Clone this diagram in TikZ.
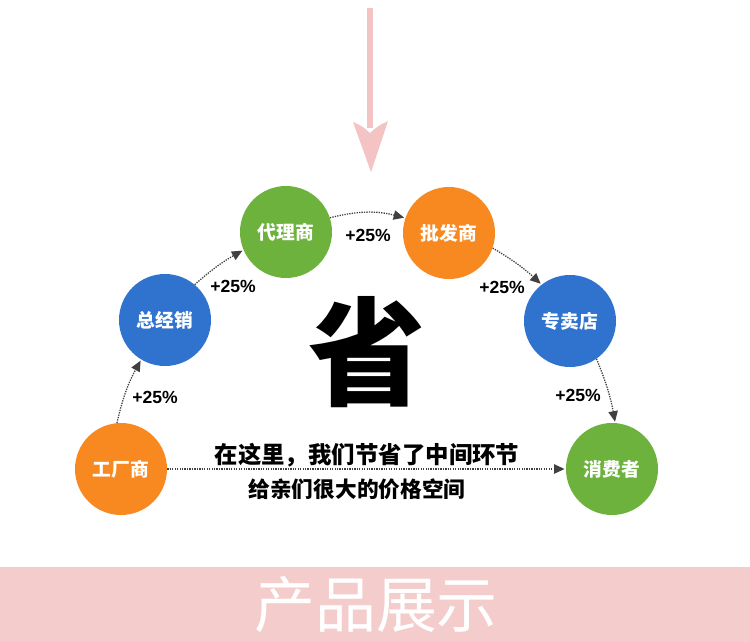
\documentclass[tikz,border=0pt]{standalone}
\usepackage{fontspec}
\usepackage{tikz}
\usetikzlibrary{arrows.meta}
\setmainfont{Liberation Sans}
\newfontfamily\cjk{Noto Sans CJK SC}
\definecolor{chengse}{RGB}{247,137,32}
\definecolor{lanse}{RGB}{47,115,206}
\definecolor{lvse}{RGB}{110,178,62}
\definecolor{fense}{RGB}{244,204,204}
\definecolor{jiantou}{RGB}{244,196,196}

\begin{document}
\begin{tikzpicture}[x=0.03cm,y=-0.03cm,
        quan/.style={circle,minimum size=2.76cm,inner sep=0pt,text=white,font=\cjk\bfseries\fontsize{16}{18}\selectfont},
        liu/.style={densely dotted,line width=1.1pt,draw=black!75,-{Triangle[length=9pt,width=8pt]},shorten >=1pt},
        jia/.style={font=\bfseries\fontsize{15}{17}\selectfont}]
        \useasboundingbox (0,0) rectangle (750,642);
        \fill[white] (0,0) rectangle (750,642);
        % pink arrow on top
        \fill[jiantou] (367,8) rectangle (373,128);
        \fill[jiantou] (353,122) .. controls (362,126) .. (370,133) .. controls (378,126) .. (388,121) -- (371,172) -- cycle;
        % circles
        \foreach \nm/\x/\y/\col/\txt in {gc/121/469/chengse/工厂商, zjx/165/320/lanse/总经销, dl/286/232/lvse/代理商,
            pf/449/233/chengse/批发商, zm/570/321/lanse/专卖店, xf/612/469/lvse/消费者}{
            \node[quan,fill=\col] (\nm) at (\x,\y) {\txt};
        }
        \draw[liu] (gc.95) to[bend left=8] (zjx.239);
        \draw[liu] (zjx.50) to[bend left=6] (dl.203);
        \draw[liu] (dl.18) to[bend left=14] (pf.161);
        \draw[liu] (pf.341) to[bend left=6] (zm.128);
        \draw[liu] (zm.305) to[bend left=6] (xf.86);
        \draw[liu] (gc.east) -- (xf.west);
        \foreach \x/\y in {155/397, 233/286, 368/235, 502/287, 578/395}{
            \node[jia] (p\x) at (\x,\y) {+25\%};
        }
        \node[font=\cjk\bfseries\fontsize{100}{100}\selectfont] (sheng) at (367,352) {省};
        \node[font=\cjk\bfseries\fontsize{20}{22}\selectfont] (hua1) at (367,455) {在这里，我们节省了中间环节};
        \node[font=\cjk\bfseries\fontsize{18.5}{20}\selectfont] (hua2) at (357,489) {给亲们很大的价格空间};
        % bottom band
        \fill[fense] (0,567) rectangle (750,642);
        \node[text=white,font=\cjk\fontsize{52}{52}\selectfont] (zhanshi) at (376,605) {产品展示};
    \end{tikzpicture}
\end{document}
